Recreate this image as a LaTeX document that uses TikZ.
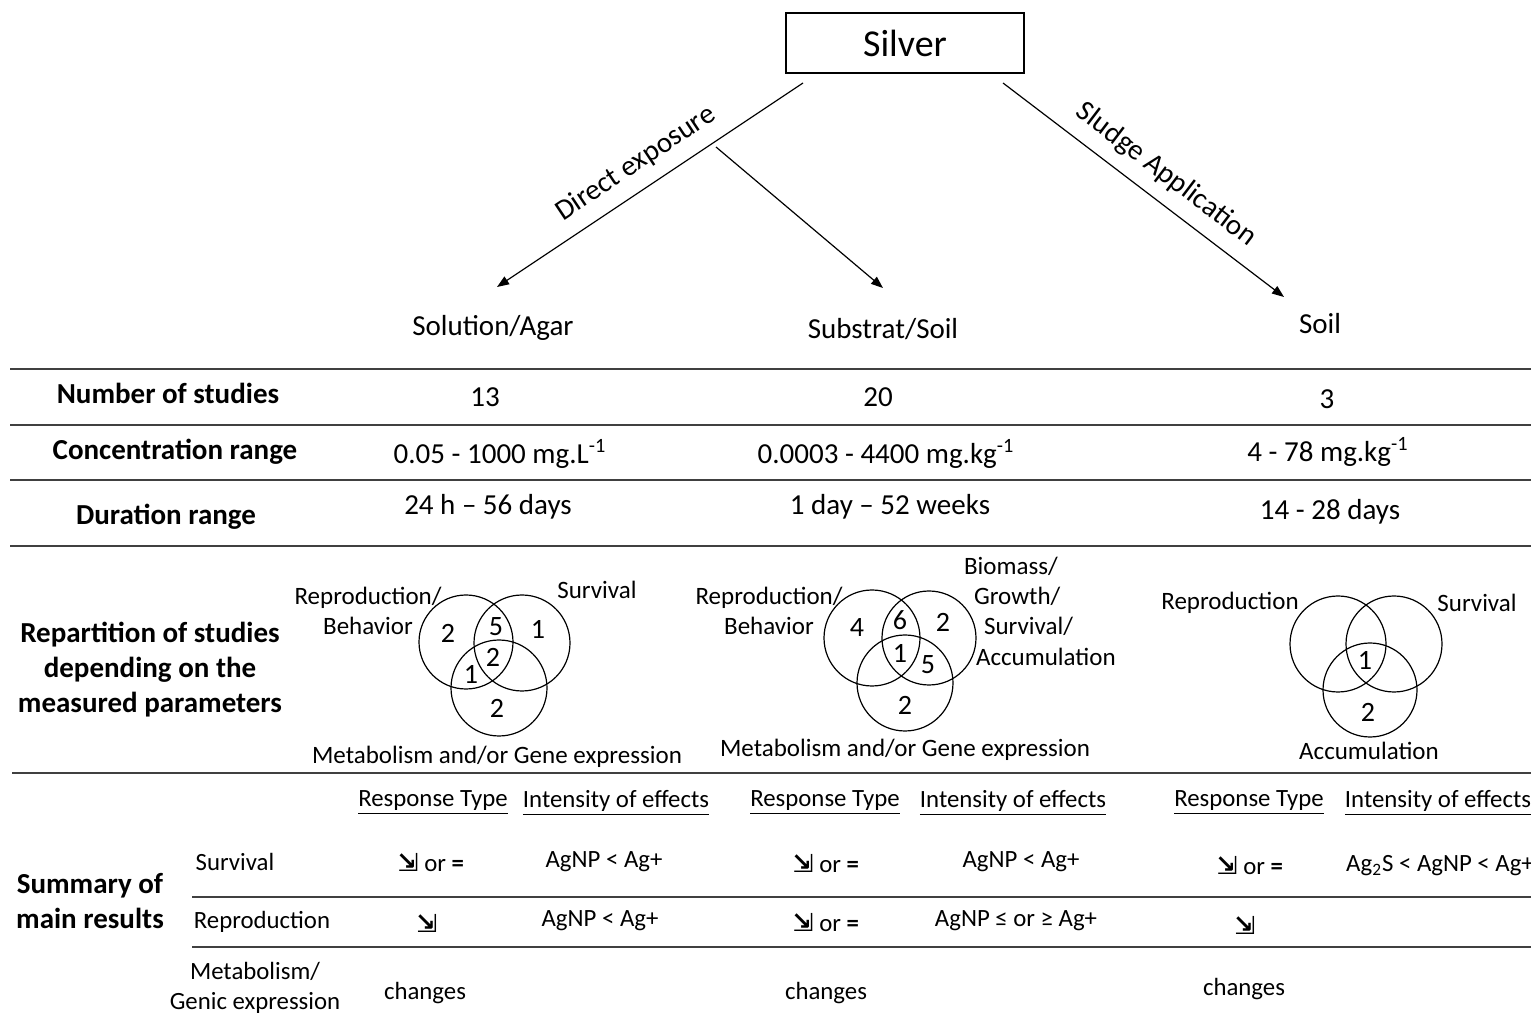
\documentclass[tikz,border=0pt]{standalone}
\usepackage{fontspec}
\setmainfont{Carlito}
\newfontfamily\symfont{DejaVu Sans}
\usetikzlibrary{arrows.meta}

\newcommand{\dec}{{\symfont\bfseries ⇲}}
\newcommand{\decor}{\dec\ or \textbf{=}}

\begin{document}
\begin{tikzpicture}[x=0.5pt,y=-0.5pt,
  cell/.style={font=\fontsize{14.5}{17}\selectfont},
  rowhead/.style={font=\fontsize{14.5}{17.5}\selectfont\bfseries,align=center},
  lab/.style={font=\fontsize{12.5}{15}\selectfont,align=center},
  sub/.style={font=\fontsize{12.4}{15}\selectfont,align=center},
  num/.style={font=\fontsize{14}{16}\selectfont,inner sep=0pt},
  rule/.style={line width=1pt,draw=black!75},
  arr/.style={line width=0.6pt},
  ring/.style={line width=0.6pt}]

  \useasboundingbox (0,0) rectangle (1531,1020);

  % top of the tree
  \node[draw,line width=0.6pt,minimum width=119pt,minimum height=30pt,
        font=\fontsize{19}{22}\selectfont] (silver) at (905,43) {Silver};

  \coordinate (d0) at (803,83);
  \coordinate (d1) at (1003,83);
  \coordinate (fork) at (716,147);
  \coordinate (tipA) at (497,287);
  \coordinate (tipB) at (883,288);
  \coordinate (tipC) at (1284,297);

  \draw[arr,{Triangle[length=6pt,width=4.5pt]}-] (tipA) -- node[sloped,above=3pt,pos=0.5,
        font=\fontsize{14.5}{17}\selectfont] (direct) {Direct exposure} (d0);
  \draw[arr,-{Triangle[length=6pt,width=4.5pt]}] (fork) -- (tipB);
  \draw[arr,-{Triangle[length=6pt,width=4.5pt]}] (d1) -- node[sloped,above=3pt,pos=0.525,
        font=\fontsize{14.5}{17}\selectfont] (sludge) {Sludge Application} (tipC);

  \node[cell] (agar) at (493,328) {Solution/Agar};
  \node[cell] (substrat) at (883,329) {Substrat/Soil};
  \node[cell] (soil) at (1320,324) {Soil};

  % table rules
  \draw[rule] (10,369) -- (1531,369);
  \draw[rule] (10,425) -- (1531,425);
  \draw[rule] (10,480) -- (1531,480);
  \draw[rule] (10,546) -- (1531,546);
  \draw[rule] (12,773) -- (1531,773);
  \draw[rule] (192,897) -- (1531,897);
  \draw[rule] (192,947) -- (1531,947);

  \node[rowhead] (nstud) at (168,393) {Number of studies};
  \node[rowhead] (conc) at (175,452) {Concentration range};
  \node[rowhead] (dur) at (166,517) {Duration range};
  \node[rowhead] (rep) at (150,670) {Repartition of studies\\depending on the\\measured parameters};
  \node[rowhead] (summ) at (90,901) {Summary of\\main results};

  \node[cell] (n1) at (485,397) {13};
  \node[cell] (n2) at (878,397) {20};
  \node[cell] (n3) at (1327,399) {3};
  \node[cell] (c1) at (500,454) {0.05 - 1000 mg.L\textsuperscript{-1}};
  \node[cell] (c2) at (886,454) {0.0003 - 4400 mg.kg\textsuperscript{-1}};
  \node[cell] (c3) at (1328,452) {4 - 78 mg.kg\textsuperscript{-1}};
  \node[cell] (t1) at (488,507) {24 h -- 56 days};
  \node[cell] (t2) at (890,507) {1 day -- 52 weeks};
  \node[cell] (t3) at (1330,512) {14 - 28 days};

  % venn diagrams
  \draw[ring] (466,642) circle [radius=47];
  \draw[ring] (522,643) circle [radius=48];
  \draw[ring] (499,688) circle [radius=48];
  \node[num] (v1a) at (448,633) {2};
  \node[num] (v1b) at (496,627) {5};
  \node[num] (v1c) at (538,629) {1};
  \node[num] (v1d) at (493,657) {2};
  \node[num] (v1e) at (471,674) {1};
  \node[num] (v1f) at (497,708) {2};
  \node[lab] (l1a) at (368,611) {Reproduction/\\Behavior};
  \node[lab] (l1b) at (597,590) {Survival};
  \node[lab] (l1c) at (497,757) {Metabolism and/or Gene expression};

  \draw[ring] (872,638) circle [radius=48];
  \draw[ring] (929,638) circle [radius=47];
  \draw[ring] (905,683) circle [radius=48];
  \node[num] (v2a) at (857,628) {4};
  \node[num] (v2b) at (900,620) {6};
  \node[num] (v2c) at (943,622) {2};
  \node[num] (v2d) at (900,653) {1};
  \node[num] (v2e) at (928,665) {5};
  \node[num] (v2f) at (905,705) {2};
  \node[lab] (l2a) at (769,611) {Reproduction/\\Behavior};
  \node[lab,anchor=west] (l2b) at (957,566) {Biomass/};
  \node[lab,anchor=west] (l2c) at (967,596) {Growth/};
  \node[lab,anchor=west] (l2d) at (977,626) {Survival/};
  \node[lab,anchor=west] (l2e) at (969,657) {Accumulation};
  \node[lab] (l2f) at (905,750) {Metabolism and/or Gene expression};

  \draw[ring] (1338,644) circle [radius=48];
  \draw[ring] (1394,644) circle [radius=48];
  \draw[ring] (1370,690) circle [radius=47];
  \node[num] (v3a) at (1365,660) {1};
  \node[num] (v3b) at (1368,712) {2};
  \node[lab] (l3a) at (1230,603) {Reproduction};
  \node[lab] (l3b) at (1477,603) {Survival};
  \node[lab] (l3c) at (1369,751) {Accumulation};

  % summary of results
  \node[sub] (h1) at (433,803) {\underline{Response Type}};
  \node[sub] (h2) at (616,803) {\underline{Intensity of effects}};
  \node[sub] (h3) at (825,803) {\underline{Response Type}};
  \node[sub] (h4) at (1013,803) {\underline{Intensity of effects}};
  \node[sub] (h5) at (1249,803) {\underline{Response Type}};
  \node[sub] (h6) at (1438,803) {\underline{Intensity of effects}};

  \node[sub] (rsurv) at (235,862) {Survival};
  \node[sub] (rrepr) at (262,922) {Reproduction};
  \node[sub] (rmeta) at (255,988) {Metabolism/\\Genic expression};

  \node[sub] (s1) at (431,863) {\decor};
  \node[sub] (s2) at (604,862) {AgNP < Ag+};
  \node[sub] (s3) at (826,864) {\decor};
  \node[sub] (s4) at (1021,862) {AgNP < Ag+};
  \node[sub] (s5) at (1250,866) {\decor};
  \node[sub] (s6) at (1440,866) {Ag\textsubscript{2}S < AgNP < Ag+};

  \node[sub] (p1) at (427,923) {\dec};
  \node[sub] (p2) at (600,921) {AgNP < Ag+};
  \node[sub] (p3) at (826,923) {\decor};
  \node[sub] (p4) at (1016,921) {AgNP ≤ or ≥ Ag+};
  \node[sub] (p5) at (1245,925) {\dec};

  \node[sub] (m1) at (425,993) {changes};
  \node[sub] (m2) at (826,993) {changes};
  \node[sub] (m3) at (1244,989) {changes};
\end{tikzpicture}
\end{document}
